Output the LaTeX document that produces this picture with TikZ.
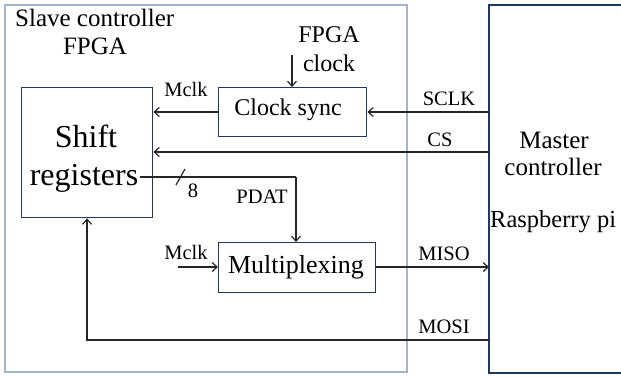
\documentclass[tikz,border=0pt]{standalone}
\usepackage{fontspec}
\setmainfont{Liberation Serif}
\usetikzlibrary{arrows.meta}
\definecolor{frameblue}{HTML}{A2B5CC}
\definecolor{boxnavy}{HTML}{1F3864}
\tikzset{
  block/.style={draw=boxnavy, line width=1.4pt, inner sep=0pt, anchor=north west},
  sig/.style={line width=1.2pt, draw=black!85},
  arr/.style={sig, -{Straight Barb[length=5pt,width=9pt,line width=1.2pt]}},
  lbl/.style={font=\fontsize{20.5}{22}\selectfont, anchor=base, inner sep=0pt},
  big/.style={font=\fontsize{24}{26}\selectfont, anchor=base, inner sep=0pt},
}
\begin{document}
\begin{tikzpicture}[x=1pt, y=-1pt]
\useasboundingbox (0,0) rectangle (621,376);
\fill[white] (0,0) rectangle (621,376);

% FPGA frame and master controller
\draw[frameblue, line width=1.5pt] (5,5) rectangle (407,372);
\draw[boxnavy, line width=1.4pt] (625,5) -- (489,5) -- (489,373) -- (625,373);
\node[big, font=\fontsize{25}{27}\selectfont, anchor=base west] (slave) at (15,26) {Slave controller};
\node[big, font=\fontsize{25}{27}\selectfont] (slavefpga) at (95,54) {FPGA};
\node[big, font=\fontsize{25}{27}\selectfont] (master) at (554,148) {Master};
\node[big, font=\fontsize{25}{27}\selectfont] (mctrl) at (553,175) {controller};
\node[big, font=\fontsize{24.5}{26}\selectfont, anchor=base west] (rpi) at (490,227) {Raspberry pi};

% blocks
\node[block, minimum width=131pt, minimum height=130pt] (shift) at (21,87) {};
\node[font=\fontsize{32}{38}\selectfont, anchor=base, inner sep=0pt] (shiftA) at (86,147) {Shift};
\node[font=\fontsize{32}{38}\selectfont, anchor=base, inner sep=0pt] (shiftB) at (84,185) {registers};
\node[block, minimum width=148pt, minimum height=49pt] (sync) at (218,87) {};
\node[big] (synctext) at (288,115) {Clock sync};
\node[block, minimum width=157pt, minimum height=50pt] (mux) at (218,242) {};
\node[big, font=\fontsize{26}{28}\selectfont] (muxtext) at (296,273) {Multiplexing};

% FPGA clock input
\node[big] (fck1) at (329,42) {FPGA};
\node[big] (fck2) at (329,71) {clock};
\coordinate (fckin) at (292,55);
\draw[arr] (fckin) -- (fckin |- sync.north);

% SPI lines and internal signals
\coordinate (sclkM) at (489,112);
\coordinate (csM) at (489,152);
\coordinate (misoM) at (489,267);
\coordinate (mosiM) at (489,340);
\draw[arr] (sclkM) -- (sclkM -| sync.east);
\node[lbl] (sclk) at (449,105) {SCLK};
\draw[arr] (sync.west |- sclkM) -- (sclkM -| shift.east);
\node[lbl] (mclk1) at (186,96) {Mclk};
\draw[arr] (csM) -- (csM -| shift.east);
\node[lbl] (cs) at (440,146) {CS};

% parallel data bus
\coordinate (pdS) at (140,177);
\coordinate (pdC) at (296,177);
\draw[sig] (pdS) -- (pdC);
\draw[arr] (pdC) -- (pdC |- mux.north);
\draw[sig] (176,185) -- (185,169);
\node[lbl] (eight) at (193,197) {8};
\node[lbl] (pdat) at (262,203) {PDAT};

% multiplexer clock and MISO
\coordinate (mclkin) at (178,267);
\draw[arr] (mclkin) -- (mclkin -| mux.west);
\node[lbl] (mclk2) at (186,259) {Mclk};
\draw[arr] (mux.east |- misoM) -- (misoM);
\node[lbl] (miso) at (444,260) {MISO};

% MOSI back into the shift registers
\coordinate (mosiC) at (87,340);
\draw[arr] (mosiM) -- (mosiC) -- (mosiC |- shift.south);
\node[lbl] (mosi) at (444,333) {MOSI};
\end{tikzpicture}
\end{document}
